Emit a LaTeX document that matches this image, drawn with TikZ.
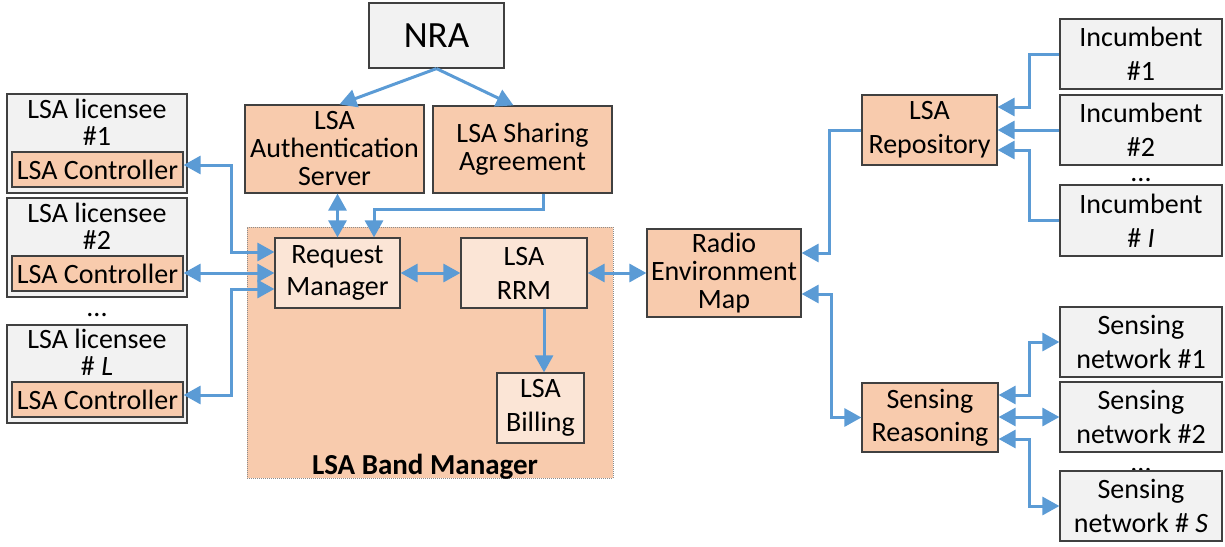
\documentclass[tikz,border=0pt]{standalone}
\usepackage{fontspec}
\setmainfont{Carlito}
\usetikzlibrary{arrows.meta}
\definecolor{bordc}{HTML}{404040}
\definecolor{grayf}{HTML}{F2F2F2}
\definecolor{peach}{HTML}{F8CBAD}
\definecolor{lpeach}{HTML}{FBE5D6}
\definecolor{linkc}{HTML}{5B9BD5}
\definecolor{dotc}{HTML}{8C8C8C}
\tikzset{
  box/.style={draw=bordc, line width=1.2pt, inner sep=0pt, align=center,
    font=\fontsize{28}{34}\selectfont},
  gbox/.style={box, fill=grayf},
  pbox/.style={box, fill=peach},
  lbox/.style={box, fill=lpeach},
  tight/.style={font=\fontsize{28}{28}\selectfont},
  txt/.style={inner sep=0pt, align=center, font=\fontsize{28}{27}\selectfont},
  conn/.style={draw=linkc, line width=3pt},
  one/.style={conn, -{Triangle[length=17pt,width=18pt]}},
  both/.style={conn, {Triangle[length=17pt,width=18pt]}-{Triangle[length=17pt,width=18pt]}},
}
\begin{document}
\begin{tikzpicture}[x=1pt,y=-1pt]
\useasboundingbox (0,0) rectangle (1225,546);

% ellipses between the stacked boxes (drawn first, boxes sit on top)
\node[txt, anchor=base] (dotsL) at (97,316) {...};
\node[txt, anchor=base] (dotsI) at (1141,181) {...};
\node[txt, anchor=base] (dotsS) at (1141,471) {...};

% regulator and top-level servers
\node[gbox, minimum width=135, minimum height=65, font=\fontsize{37}{40}\selectfont] (nra) at (436.5,35.5) {NRA};
\node[pbox, tight, minimum width=179, minimum height=88] (auth) at (334.5,149) {LSA\\Authentication\\Server};
\node[pbox, tight, minimum width=179, minimum height=87] (sa) at (522.5,149.5) {LSA Sharing\\Agreement};

% band manager and its internal blocks
\node[draw=dotc, line width=1pt, dash pattern=on 1pt off 1pt, fill=peach,
  minimum width=366, minimum height=251, inner sep=0pt] (bm) at (430,352.5) {};
\node[font=\fontsize{29}{30}\selectfont\bfseries, anchor=base, inner sep=0pt] (bmt) at (425,474) {LSA Band Manager};
\node[lbox, font=\fontsize{28}{32}\selectfont, minimum width=125, minimum height=70] (rm) at (337.5,273) {Request\\Manager};
\node[lbox, minimum width=126, minimum height=70] (rrm) at (524,273) {LSA\\RRM};
\node[lbox, minimum width=87, minimum height=70] (bill) at (540.5,408) {LSA\\Billing};

% radio environment map, repository, sensing reasoning
\node[pbox, tight, minimum width=154, minimum height=88] (rem) at (724,273) {Radio\\Environment\\Map};
\node[pbox, minimum width=135, minimum height=70] (repo) at (929.5,130) {LSA\\Repository};
\node[pbox, font=\fontsize{28}{33}\selectfont, minimum width=136, minimum height=69] (sr) at (930,417.5) {Sensing\\Reasoning};

% incumbents
\node[gbox, minimum width=162, minimum height=70] (inc1) at (1141,54) {Incumbent\\\#1};
\node[gbox, minimum width=162, minimum height=70] (inc2) at (1141,130) {Incumbent\\\#2};
\node[gbox, minimum width=162, minimum height=71] (incI) at (1141,220.5) {Incumbent\\\# \textit{I}};

% sensing networks
\node[gbox, minimum width=162, minimum height=70] (sn1) at (1141,342) {Sensing\\network \#1};
\node[gbox, minimum width=162, minimum height=70] (sn2) at (1141,417) {Sensing\\network \#2};
\node[gbox, minimum width=162, minimum height=70] (snS) at (1141,506) {Sensing\\network \# \textit{S}};

% licensees with their controllers
\node[gbox, minimum width=180, minimum height=99] (lic1) at (97,143.5) {};
\node[txt] (lic1t) at (97,122) {LSA licensee\\\#1};
\node[pbox, minimum width=171, minimum height=35] (ctl1) at (97.5,169.5) {LSA Controller};
\node[gbox, minimum width=180, minimum height=99] (lic2) at (97,247.5) {};
\node[txt] (lic2t) at (97,226) {LSA licensee\\\#2};
\node[pbox, minimum width=171, minimum height=35] (ctl2) at (97.5,273.5) {LSA Controller};
\node[gbox, minimum width=180, minimum height=98] (licL) at (97,374) {};
\node[txt] (licLt) at (97,352.5) {LSA licensee\\\# \textit{L}};
\node[pbox, minimum width=171, minimum height=35] (ctlL) at (97.5,399.5) {LSA Controller};

% connectors
\draw[one] (nra.south) -- ([xshift=5pt]auth.north);
\draw[one] (nra.south) -- ([xshift=-9pt]sa.north);
\draw[both] (rm.north |- auth.south) -- (rm.north);
\draw[one] (sa.south -| 543,0) -- (543,209) -- (374,209) -- (rm.north -| 374,0);

\draw[both] (ctl1.east |- 0,165) -- (231,165) -- (231,252) -- (rm.west |- 0,252);
\draw[both] (ctl2.east |- 0,273) -- (rm.west |- 0,273);
\draw[both] (ctlL.east |- 0,395) -- (231,395) -- (231,289) -- (rm.west |- 0,289);

\draw[both] (rm.east) -- (rrm.west);
\draw[both] (rrm.east) -- (rem.west);
\draw[one] (rrm.south -| 544,0) -- (bill.north -| 544,0);

\draw[one] (repo.west) -- (829,130) -- (829,253) -- (rem.east |- 0,253);
\draw[both] (sr.west) -- (831,417.5) -- (831,294) -- (rem.east |- 0,294);

\draw[one] (inc1.west) -- (1029,54) -- (1029,107) -- (repo.east |- 0,107);
\draw[one] (inc2.west) -- (repo.east);
\draw[one] (incI.west |- 0,220) -- (1029,220) -- (1029,150) -- (repo.east |- 0,150);

\draw[both] (sn1.west) -- (1029,342) -- (1029,395) -- (sr.east |- 0,395);
\draw[both] (sn2.west) -- (sr.east |- 0,417);
\draw[both] (snS.west) -- (1029,506) -- (1029,439) -- (sr.east |- 0,439);
\end{tikzpicture}
\end{document}
